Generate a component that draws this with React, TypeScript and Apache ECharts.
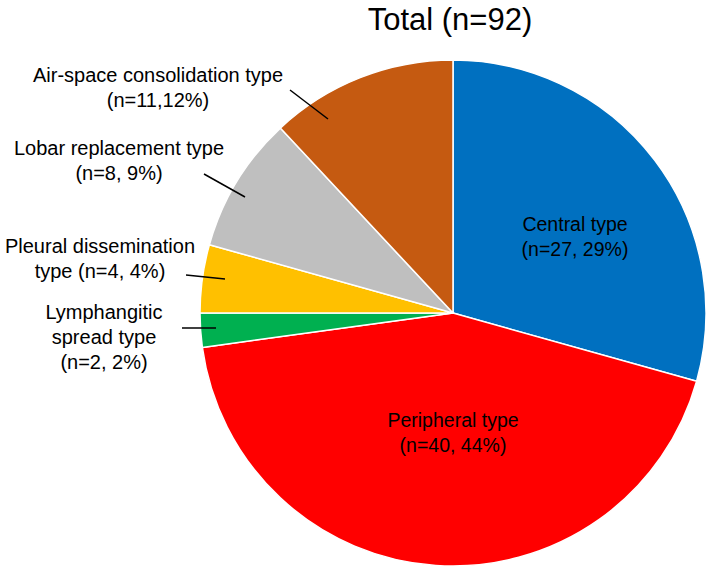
import React, { useEffect, useRef } from "react";
import * as echarts from "echarts";

const titleText = "Total (n=92)";
const categories = [
  "Central type",
  "Peripheral type",
  "Lymphangitic spread type",
  "Pleural dissemination type",
  "Lobar replacement type",
  "Air-space consolidation type",
];
const counts = [27, 40, 2, 4, 8, 11];
const labelTexts = [
  "Central type\n(n=27, 29%)",
  "Peripheral type\n(n=40, 44%)",
  "Lymphangitic\nspread type\n(n=2, 2%)",
  "Pleural dissemination\ntype (n=4, 4%)",
  "Lobar replacement type\n(n=8, 9%)",
  "Air-space consolidation type\n(n=11,12%)",
];
const colors = ["#0070C0", "#FF0000", "#00B050", "#FFC000", "#BFBFBF", "#C55A11"];

// layout only: label centres and leader lines, in page pixels
const labelLayouts: { x: number; y: number; line?: number[] }[] = [
  { x: 575, y: 236 },
  { x: 453, y: 432 },
  { x: 104, y: 337, line: [182, 328, 216, 328] },
  { x: 100, y: 258, line: [186, 275, 225, 279] },
  { x: 119, y: 160, line: [204, 174, 245, 197] },
  { x: 158, y: 87, line: [290, 90, 328, 119] },
];

const FONT = "'Liberation Sans', Arial, sans-serif";

export default function App() {
  const ref = useRef<HTMLDivElement>(null);
  useEffect(() => {
    if (!ref.current) return;
    const chart = echarts.init(ref.current, null, { renderer: "svg" });
    const data = categories.map((name, i) => ({
      name,
      value: counts[i],
      itemStyle: { color: colors[i] },
      label: {
        show: true,
        position: i < 2 ? "inside" : "outside",
        formatter: labelTexts[i],
        fontSize: i < 2 ? 19.5 : 20,
      },
      labelLine: { show: false },
    }));
    const leaderLines = labelLayouts
      .filter((l) => l.line)
      .map((l) => ({
        type: "line",
        z: 100,
        shape: { x1: l.line![0], y1: l.line![1], x2: l.line![2], y2: l.line![3] },
        style: { stroke: "#000000", lineWidth: 1.5 },
      }));
    chart.setOption({
      animation: false,
      backgroundColor: "#ffffff",
      graphic: [
        {
          type: "text",
          z: 100,
          style: {
            x: 450,
            y: 19,
            text: titleText,
            align: "center",
            verticalAlign: "middle",
            fontSize: 31,
            fontFamily: FONT,
            fill: "#000000",
          },
        },
        ...leaderLines,
      ],
      series: [
        {
          type: "pie",
          center: [453, 313],
          radius: 253,
          startAngle: 90,
          clockwise: true,
          avoidLabelOverlap: false,
          itemStyle: { borderColor: "#ffffff", borderWidth: 1.5 },
          label: {
            color: "#000000",
            fontSize: 20,
            lineHeight: 25,
            fontFamily: FONT,
            align: "center",
          },
          emphasis: { disabled: true },
          labelLayout: (params: any) => {
            const l = labelLayouts[params.dataIndex];
            return { x: l.x, y: l.y, align: "center", verticalAlign: "middle" };
          },
          data,
        },
      ],
    });
    return () => chart.dispose();
  }, []);
  return (
    <div
      ref={ref}
      style={{ position: "fixed", left: 0, top: 0, width: 709, height: 569 }}
    />
  );
}
